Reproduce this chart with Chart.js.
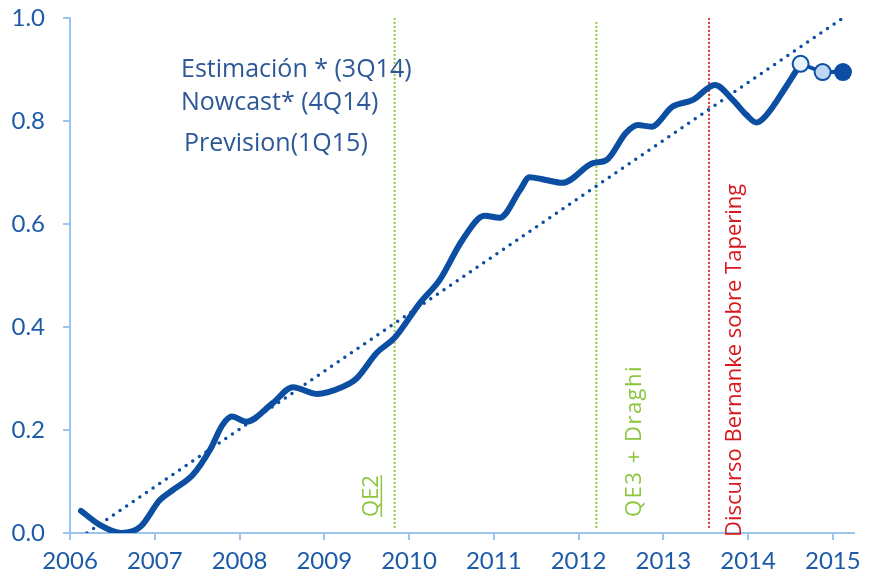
<!DOCTYPE html>
<html>
<head>
<meta charset="utf-8">
<script src="https://cdn.jsdelivr.net/npm/chart.js@4.4.1/dist/chart.umd.min.js"></script>
<style>
  html, body { margin: 0; padding: 0; background: #fff; }
  #wrap { width: 872px; height: 581px; }
</style>
</head>
<body>
<div id="wrap"><canvas id="chart"></canvas></div>
<script>
// axis ticks
const years = [2006, 2007, 2008, 2009, 2010, 2011, 2012, 2013, 2014, 2015];
const yTicks = [0, 0.2, 0.4, 0.6, 0.8, 1.0];

// main indicator
const curveX = [2006.13, 2006.35, 2006.61, 2006.83, 2007.06, 2007.21, 2007.45, 2007.65, 2007.80, 2007.91,
  2008.08, 2008.39, 2008.63, 2008.91, 2009.22, 2009.38, 2009.62, 2009.83, 2010.13, 2010.36,
  2010.63, 2010.89, 2011.07, 2011.31, 2011.42, 2011.60, 2011.81, 2012.17, 2012.33, 2012.56,
  2012.70, 2012.86, 2013.11, 2013.35, 2013.61, 2013.82, 2013.98, 2014.10, 2014.22, 2014.45, 2014.62];
const curveY = [0.043, 0.016, 0.000, 0.012, 0.064, 0.083, 0.113, 0.161, 0.210, 0.226,
  0.216, 0.252, 0.283, 0.270, 0.284, 0.300, 0.350, 0.379, 0.447, 0.491,
  0.569, 0.616, 0.612, 0.666, 0.691, 0.686, 0.680, 0.718, 0.724, 0.777,
  0.792, 0.789, 0.828, 0.841, 0.870, 0.841, 0.812, 0.797, 0.812, 0.867, 0.911];

// estimation / nowcast / forecast points
const forecastX = [2014.62, 2014.88, 2015.12];
const forecastY = [0.911, 0.895, 0.895];

// linear trend
const trendX = [2006.2, 2015.12];
const trendY = [0.0, 1.0];

// events
const eventNames = ["QE2", "QE3 + Draghi", "Discurso Bernanke sobre Tapering"];
const eventX = [2009.83, 2012.21, 2013.54];
const eventTop = [1.008, 0.992, 1.0];

const notes = ["Estimación * (3Q14)", "Nowcast* (4Q14)", "Prevision(1Q15)"];

const pts = (xs, ys) => xs.map((x, i) => ({ x: x, y: ys[i] }));

const DARK = "#0b4ea2";
const AXIS = "#9cc5ee";
const GREEN = "#8cc63f";
const RED = "#e3262b";

const eventSets = eventX.map((x, i) => ({
  data: [{ x: x, y: 0.01 }, { x: x, y: eventTop[i] }],
  borderColor: i === 2 ? RED : GREEN,
  borderWidth: 2,
  borderDash: [2, 2],
  pointRadius: 0,
  fill: false
}));

const notesPlugin = {
  id: "notes",
  afterDatasetsDraw(chart) {
    const ctx = chart.ctx;
    const xs = chart.scales.x;
    ctx.save();
    ctx.fillStyle = "#2d5897";
    ctx.font = "25px 'Open Sans'";
    ctx.textBaseline = "middle";
    ctx.fillText(notes[0], 181, 70);
    ctx.fillText(notes[1], 181, 103);
    ctx.fillText(notes[2], 184, 144);

    const shift = [-23, 38, 26];
    const bottom = [517, 517, 537];
    eventNames.forEach((name, i) => {
      const px = xs.getPixelForValue(eventX[i]) + shift[i];
      ctx.save();
      ctx.translate(px, bottom[i]);
      ctx.rotate(-Math.PI / 2);
      ctx.fillStyle = i === 2 ? "#d7191f" : GREEN;
      ctx.font = "22px 'Open Sans'";
      ctx.textAlign = "left";
      ctx.textBaseline = "middle";
      if (i === 1) ctx.letterSpacing = "1.5px";
      ctx.fillText(name, 0, 0);
      if (i === 0) {
        const w = ctx.measureText(name).width;
        ctx.fillRect(0, 9, w, 1.5);
      }
      ctx.restore();
    });
    ctx.restore();
  }
};

new Chart(document.getElementById("chart"), {
  type: "line",
  data: {
    datasets: [
      {
        data: pts(forecastX, forecastY),
        borderColor: DARK,
        borderWidth: 4,
        pointRadius: 8,
        pointBorderWidth: 2,
        pointBorderColor: DARK,
        pointBackgroundColor: ["#e6f3fd", "#bdd7f5", DARK],
        fill: false
      },
      {
        data: pts(curveX, curveY),
        borderColor: DARK,
        borderWidth: 6,
        borderCapStyle: "round",
        cubicInterpolationMode: "monotone",
        pointRadius: 0,
        fill: false
      },
      {
        data: pts(trendX, trendY),
        borderColor: DARK,
        borderWidth: 3.5,
        borderDash: [0, 8],
        borderCapStyle: "round",
        pointRadius: 0,
        fill: false
      },
      ...eventSets
    ]
  },
  options: {
    responsive: true,
    maintainAspectRatio: false,
    animation: false,
    layout: { padding: { top: 18, right: 18, left: 0, bottom: 0 } },
    plugins: {
      legend: { display: false },
      tooltip: { enabled: false }
    },
    scales: {
      x: {
        type: "linear",
        min: 2006,
        max: 2015.25,
        afterBuildTicks: (s) => { s.ticks = years.map((v) => ({ value: v })); },
        afterFit: (s) => { s.height = 48; s.paddingLeft = 0; s.paddingRight = 0; },
        grid: { drawOnChartArea: false, drawTicks: true, tickLength: 7, color: AXIS, lineWidth: 2 },
        border: { display: true, color: AXIS, width: 2 },
        ticks: {
          color: "#1d5ba8",
          font: { family: "Lato", size: 24 },
          padding: 7,
          maxRotation: 0,
          callback: (v) => String(v)
        }
      },
      y: {
        min: 0,
        max: 1,
        afterBuildTicks: (s) => { s.ticks = yTicks.map((v) => ({ value: v })); },
        afterFit: (s) => { s.width = 70; s.paddingTop = 0; s.paddingBottom = 0; },
        grid: { drawOnChartArea: false, drawTicks: true, tickLength: 7, color: AXIS, lineWidth: 2 },
        border: { display: true, color: AXIS, width: 2 },
        ticks: {
          color: "#1d5ba8",
          font: { family: "Lato", size: 24 },
          padding: 18,
          callback: (v) => v.toFixed(1)
        }
      }
    }
  },
  plugins: [notesPlugin]
});
</script>
</body>
</html>
